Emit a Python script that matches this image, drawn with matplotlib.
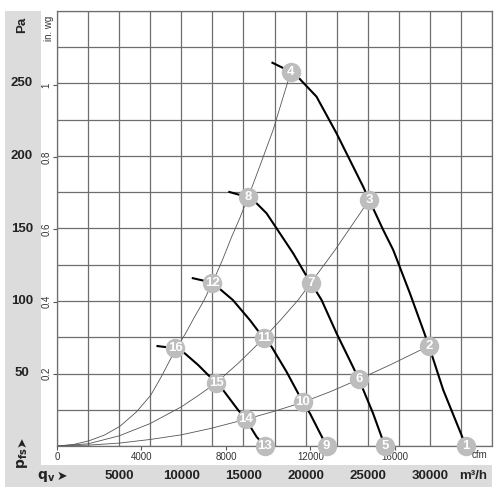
import matplotlib
matplotlib.use("Agg")
import matplotlib.pyplot as plt
import matplotlib.transforms as mtransforms
from matplotlib.patches import Rectangle
from matplotlib.ticker import MultipleLocator, NullFormatter

plt.rcParams['font.family'] = ['Liberation Sans', 'DejaVu Sans']

# ---- data (flow in m3/h, static pressure in Pa) ----
curve_1_4_q = [17260, 18815, 19403, 20883, 22493, 23565, 24636, 25119, 26246, 27051, 28396, 29467, 29926, 31077, 32905]
curve_1_4_p = [264.6, 258.1, 254.3, 240.9, 215.6, 197.2, 178.8, 169.7, 149.0, 135.2, 105.3, 80.0, 69.0, 38.6, 0]

curve_5_8_q = [13786, 15378, 16054, 16859, 17930, 19001, 19943, 20426, 21287, 22494, 23807, 24290, 25417, 26383]
curve_5_8_p = [175.4, 171.5, 167.4, 160.5, 146.7, 132.9, 119.1, 112.6, 100.7, 77.7, 54.7, 46.0, 22.8, 0]

curve_9_12_q = [10845, 12511, 14146, 15514, 16630, 17262, 18469, 19403, 19757, 20345, 21689]
curve_9_12_p = [115.9, 112.6, 100.7, 86.9, 74.3, 68.5, 51.2, 36.3, 30.1, 22.6, 0]

curve_13_16_q = [8003, 9532, 10281, 11352, 12157, 12833, 13365, 14573, 15193, 16054, 16715]
curve_13_16_p = [69.0, 67.4, 63.9, 55.9, 49.0, 43.7, 38.6, 24.8, 18.4, 6.4, 0]

sys_a_q = [0, 1300, 2550, 3800, 5050, 6390, 7540, 8405, 9532, 10300, 11000, 11800, 12511, 13300, 14040, 14700, 15378, 16320, 17390, 18815]
sys_a_p = [0, 1, 3.5, 7.5, 13.5, 23.5, 35, 48, 66.5, 77, 88, 100, 112.6, 128, 144, 157, 171.5, 193, 218, 258.1]

sys_b_q = [0, 2500, 5000, 7500, 10000, 11400, 12833, 14700, 16630, 18000, 19403, 20426, 22358, 25119]
sys_b_p = [0, 1.5, 7, 15.5, 27, 35, 43.7, 58, 74.3, 87, 100.7, 112.6, 135, 169.7]

sys_c_q = [0, 2500, 5000, 7500, 10000, 12310, 15193, 17500, 19757, 22000, 24290, 26794, 29926]
sys_c_p = [0, 0.6, 2, 4.5, 7.7, 12, 18.4, 24, 30.1, 37.5, 46, 55.9, 69]

point_labels = ['1', '2', '3', '4', '5', '6', '7', '8', '9', '10', '11', '12', '13', '14', '15', '16']
point_q = [32905, 29926, 25119, 18815, 26383, 24290, 20426, 15378, 21689, 19757, 16630, 12511, 16715, 15193, 12833, 9532]
point_p = [0, 69, 169.7, 258.1, 0, 46, 112.6, 171.5, 0, 30.1, 74.3, 112.6, 0, 18.4, 43.7, 67.4]

pa_ticks = [50, 100, 150, 200, 250]
m3h_ticks = [5000, 10000, 15000, 20000, 25000, 30000]
cfm_ticks = [0, 4000, 8000, 12000, 16000]
inwg_ticks = [0.2, 0.4, 0.6, 0.8, 1.0]

M3H_PER_CFM = 1.699
PA_PER_INWG = 249.089

fig = plt.figure(figsize=(5, 5), dpi=100)
fig.patch.set_facecolor('white')

band = '#dcdcdc'
fig.patches.append(Rectangle((0.010, 0.026), 0.072, 0.952, transform=fig.transFigure,
                             facecolor=band, edgecolor='none', zorder=-5))
fig.patches.append(Rectangle((0.010, 0.026), 0.974, 0.044, transform=fig.transFigure,
                             facecolor=band, edgecolor='none', zorder=-5))

ax = fig.add_axes([0.114, 0.108, 0.870, 0.870])
ax.set_xlim(0, 35000)
ax.set_ylim(0, 300)
ax.xaxis.set_major_locator(MultipleLocator(2500))
ax.yaxis.set_major_locator(MultipleLocator(25))
ax.xaxis.set_major_formatter(NullFormatter())
ax.yaxis.set_major_formatter(NullFormatter())
ax.tick_params(length=0)
ax.grid(True, color='#6e6e6e', linewidth=0.9)
ax.set_axisbelow(True)
for s in ax.spines.values():
    s.set_color('#6e6e6e')
    s.set_linewidth(0.9)

sys_color = '#555555'
for q, p in [(sys_a_q, sys_a_p), (sys_b_q, sys_b_p), (sys_c_q, sys_c_p)]:
    ax.plot(q, p, color=sys_color, linewidth=0.6, zorder=2)

for q, p in [(curve_1_4_q, curve_1_4_p), (curve_5_8_q, curve_5_8_p),
             (curve_9_12_q, curve_9_12_p), (curve_13_16_q, curve_13_16_p)]:
    ax.plot(q, p, color='black', linewidth=1.5, zorder=3, solid_capstyle='butt')

ax.plot(point_q, point_p, linestyle='none', marker='o', markersize=14,
        markerfacecolor='#bdbdbd', markeredgecolor='none', zorder=4, clip_on=False)
for lab, q, p in zip(point_labels, point_q, point_p):
    ax.text(q, p, lab, ha='center', va='center', color='white', fontsize=9.5,
            fontweight='bold', zorder=5, clip_on=False)

# secondary axes: cfm and in. wg
sec_x = ax.secondary_xaxis('bottom', functions=(lambda x: x / M3H_PER_CFM, lambda c: c * M3H_PER_CFM))
sec_x.set_xticks(cfm_ticks)
sec_x.set_xticklabels([str(v) for v in cfm_ticks])
sec_x.tick_params(length=3, width=0.8, color='#555555', labelsize=7, labelcolor='#333333', pad=1)
sec_x.spines['bottom'].set_visible(False)

sec_y = ax.secondary_yaxis('left', functions=(lambda y: y / PA_PER_INWG, lambda w: w * PA_PER_INWG))
sec_y.set_yticks(inwg_ticks)
sec_y.set_yticklabels([f'{v:g}' for v in inwg_ticks])
sec_y.tick_params(length=3, width=0.8, color='#555555', labelsize=7, labelcolor='#333333', pad=1)
for lbl in sec_y.get_yticklabels():
    lbl.set_rotation(90)
    lbl.set_va('center')
sec_y.spines['left'].set_visible(False)

# Pa labels in left band
tr_y = mtransforms.blended_transform_factory(fig.transFigure, ax.transData)
for v in pa_ticks:
    ax.text(0.044, v, str(v), transform=tr_y, ha='center', va='center',
            fontsize=9.5, fontweight='bold', color='#222222', clip_on=False)

# m3/h labels in bottom band
tr_x = mtransforms.blended_transform_factory(ax.transData, fig.transFigure)
for v in m3h_ticks:
    ax.text(v, 0.048, str(v), transform=tr_x, ha='center', va='center',
            fontsize=9.5, fontweight='bold', color='#222222', clip_on=False)

fig.text(0.946, 0.048, 'm³/h', ha='center', va='center', fontsize=9.5, fontweight='bold', color='#222222')
fig.text(0.958, 0.089, 'cfm', ha='center', va='center', fontsize=7, color='#333333')
fig.text(0.044, 0.950, 'Pa', ha='center', va='center', fontsize=9.5, fontweight='bold',
         rotation=90, color='#222222')
fig.text(0.098, 0.944, 'in. wg', ha='center', va='center', fontsize=7, rotation=90, color='#333333')
fig.text(0.044, 0.084, r'$\mathbf{p}_{\mathbf{fs}}$', ha='center', va='center', fontsize=10,
         rotation=90, color='#222222')
fig.text(0.044, 0.117, '➤', ha='center', va='center', fontsize=9, rotation=90, color='#222222',
         family=['DejaVu Sans'])
fig.text(0.092, 0.048, r'$\mathbf{q}_{\mathbf{v}}$', ha='center', va='center', fontsize=10,
         color='#222222')
fig.text(0.124, 0.048, '➤', ha='center', va='center', fontsize=9, color='#222222',
         family=['DejaVu Sans'])

fig.savefig('out.png', dpi=100)
